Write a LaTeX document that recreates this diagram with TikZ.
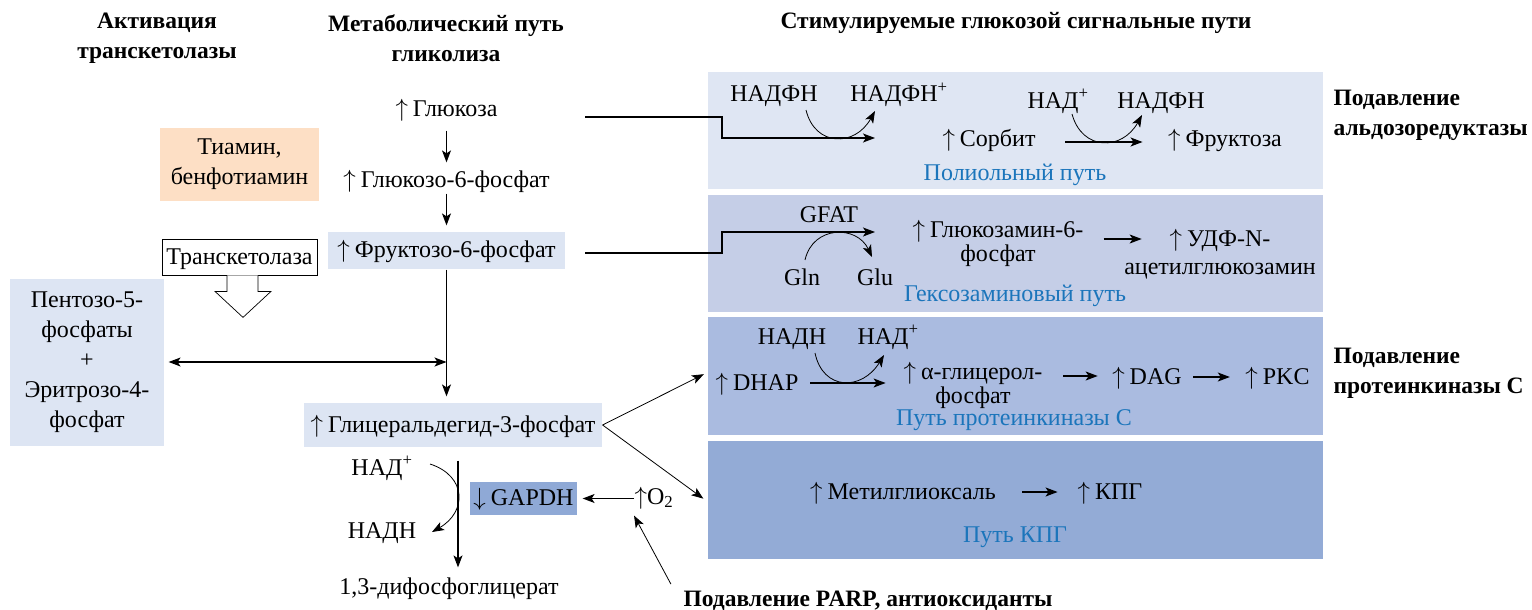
\documentclass[tikz,border=0pt]{standalone}
\usepackage{fontspec}
\setmainfont{Liberation Serif}
\usepackage{tikz}
\usetikzlibrary{positioning,arrows.meta}
\definecolor{PanelPolyol}{HTML}{DFE6F3}
\definecolor{PanelHex}{HTML}{C5CEE7}
\definecolor{PanelPkc}{HTML}{AABBE0}
\definecolor{PanelKpg}{HTML}{93ABD6}
\definecolor{LightBox}{HTML}{DDE5F3}
\definecolor{PeachBox}{HTML}{FDDFC5}
\definecolor{GapdhBox}{HTML}{8FA9D6}
\definecolor{PathBlue}{HTML}{1B75BB}
\tikzstyle{TxtBase}=[font=\fontsize{24}{28}\selectfont, inner sep=0pt]
\tikzstyle{TxtNode}=[TxtBase, text height=18.5pt, text depth=4.5pt]
\tikzstyle{MultiNode}=[TxtBase, align=center]
\tikzstyle{BoxNode}=[TxtNode, fill=LightBox]
\tikzstyle{MultiBox}=[MultiNode, fill=LightBox]
\tikzstyle{HeadNode}=[font=\fontsize{23.5}{30}\selectfont\bfseries, align=center, inner sep=0pt]
\tikzstyle{NoteNode}=[HeadNode, align=left, anchor=west]
\tikzstyle{PathName}=[TxtNode, text=PathBlue]
\tikzstyle{PanelNode}=[rectangle, minimum width=615pt, minimum height=117pt, inner sep=0pt]
\tikzstyle{CoLine}=[line width=0.8pt]
\newcommand{\UpArr}{$\uparrow$\hspace{5pt}}
\newcommand{\DownArr}{$\downarrow$\hspace{5pt}}

\begin{document}
\begin{tikzpicture}[x=1pt, y=-1pt, >={Stealth[length=12pt,width=9pt,inset=3pt]}, line width=1.2pt]

    \useasboundingbox (0,0) rectangle (1532,610);

    \node (ActHead) [HeadNode] at (157,38) {Активация\\транскетолазы};
    \node (GlyHead) [HeadNode] at (446,38) {Метаболический путь\\гликолиза};
    \node (SigHead) [HeadNode] at (1016,23) {Стимулируемые глюкозой сигнальные пути};

    \node (PolyolPanel) [PanelNode, fill=PanelPolyol] at (1015.5,130.5) {};
    \node (HexPanel) [PanelNode, fill=PanelHex, below=5pt of PolyolPanel] {};
    \node (PkcPanel) [PanelNode, fill=PanelPkc, minimum height=118pt, below=4pt of HexPanel] {};
    \node (KpgPanel) [PanelNode, fill=PanelKpg, minimum height=118pt, below=4pt of PkcPanel] {};

    \node (Glucose) [TxtNode] at (446.5,110) {\UpArr Глюкоза};
    \node (Glc6P) [TxtNode] at (446.5,180) {\UpArr Глюкозо-6-фосфат};
    \node (Fru6P) [BoxNode, minimum width=237pt, minimum height=37pt] at (446.5,250.5) {\UpArr Фруктозо-6-фосфат};
    \node (Gly3P) [BoxNode, minimum width=298pt, minimum height=44pt] at (453,425) {\UpArr Глицеральдегид-3-фосфат};
    \node (NadPlus) [TxtNode] at (382,468) {НАД\textsuperscript{+}};
    \node (NadH) [TxtNode] at (382,531) {НАДН};
    \node (Bpg) [TxtNode] at (449,587) {1,3-дифосфоглицерат};
    \node (Gapdh) [BoxNode, fill=GapdhBox, minimum width=107pt, minimum height=33pt] at (523.5,498.5) {\DownArr GAPDH};
    \node (Oxy) [TxtNode] at (654,497) {$\uparrow$O\textsubscript{2}};
    \node (Parp) [HeadNode] at (868,601) {Подавление PARP, антиоксиданты};

    \node (Tiamin) [MultiNode, fill=PeachBox, font=\fontsize{24}{30}\selectfont, minimum width=159pt, minimum height=73pt] at (239.5,164.5) {Тиамин,\\бенфотиамин};
    \node (TransKet) [TxtNode, draw, line width=0.8pt, fill=white, minimum width=155pt, minimum height=36pt] at (239.5,257) {Транскетолаза};
    \node (Pentose) [MultiBox, font=\fontsize{24}{30}\selectfont, minimum width=154pt, minimum height=167pt] at (87,362) {Пентозо-5-\\фосфаты\\+\\Эритрозо-4-\\фосфат};

    \node (Nadph01) [TxtNode] at (774,95) {НАДФН};
    \node (Nadphp01) [TxtNode] at (899,95) {НАДФН\textsuperscript{+}};
    \node (Sorbitol) [TxtNode] at (989,139) {\UpArr Сорбит};
    \node (Nad01) [TxtNode] at (1058,101) {НАД\textsuperscript{+}};
    \node (Nadph02) [TxtNode] at (1161,101) {НАДФН};
    \node (Fructose) [TxtNode] at (1225,139) {\UpArr Фруктоза};
    \node (PolyolName) [PathName] at (1015,173) {Полиольный путь};
    \node (AldoNote) [NoteNode] at (1333,115) {Подавление\\альдозоредуктазы};

    \node (Gfat) [TxtNode] at (829,215) {GFAT};
    \node (Gln) [TxtNode] at (802,278) {Gln};
    \node (Glu) [TxtNode] at (875,278) {Glu};
    \node (GlcN6P) [MultiNode, font=\fontsize{24}{24}\selectfont] at (998,243) {\UpArr Глюкозамин-6-\\фосфат};
    \node (UdpGlcNAc) [MultiNode] at (1220,254) {\UpArr УДФ-N-\\ацетилглюкозамин};
    \node (HexName) [PathName] at (1015,294) {Гексозаминовый путь};

    \node (Nadh03) [TxtNode] at (792,337) {НАДН};
    \node (Nadp03) [TxtNode] at (888,337) {НАД\textsuperscript{+}};
    \node (Dhap) [TxtNode] at (757,383) {\UpArr DHAP};
    \node (GroP) [MultiNode, font=\fontsize{24}{24}\selectfont] at (973,385) {\UpArr α-глицерол-\\фосфат};
    \node (Dag) [TxtNode] at (1147,377) {\UpArr DAG};
    \node (Pkc) [TxtNode] at (1277.5,377) {\UpArr PKC};
    \node (PkcName) [PathName] at (1014,418) {Путь протеинкиназы С};
    \node (PkcNote) [NoteNode] at (1333,373) {Подавление\\протеинкиназы С};

    \node (Mgo) [TxtNode] at (903,492) {\UpArr Метилглиоксаль};
    \node (Kpg) [TxtNode] at (1110,492) {\UpArr КПГ};
    \node (KpgName) [PathName] at (1015,535) {Путь КПГ};

    \coordinate (GlcOut) at (585,117);
    \coordinate (PolyolIn) at (722,138);
    \coordinate (PolyolEnd) at (875,138);
    \coordinate (FruOut) at (585,253);
    \coordinate (HexIn) at (722,232);
    \coordinate (HexEnd) at (875,232);

    \draw [->, shorten <=8.5pt, shorten >=5.5pt] (Glucose) -- (Glc6P);
    \draw [->, shorten <=1.5pt, shorten >=6pt] (Glc6P) -- (Fru6P);
    \draw [->, shorten >=6pt] (Fru6P.south) -- (Fru6P.south |- Gly3P.north);
    \draw [<->, shorten <=4pt] (Pentose.east) -- (Pentose.east -| Fru6P.south);
    \draw [->, shorten <=13pt, shorten >=7.5pt] ([xshift=5pt]Gly3P.south) -- ([xshift=5pt]Gly3P.south |- Bpg.north);
    \draw [->, CoLine] ([xshift=48pt,yshift=4pt]NadPlus.center) .. controls +(37,12) and +(35,-20) .. ([xshift=50pt,yshift=-1pt]NadH.center);
    \draw [->, shorten >=5pt] (Oxy.west |- Gapdh.east) -- (Gapdh.east);
    \draw [->, CoLine] ([xshift=-12pt,yshift=6.5pt]Parp.north west) -- ([yshift=-6.5pt]Oxy.south west);
    \draw [->, CoLine, shorten >=4pt] (Gly3P.east) -- ([yshift=4pt]PkcPanel.west);
    \draw [->, CoLine, shorten >=5pt] (Gly3P.east) -- ([yshift=-2pt]KpgPanel.west);
    \draw [line width=0.7pt, fill=white] ([xshift=-12.5pt]TransKet.south) -- ++(0,16) -- ++(-12,0) -- ++(28,26) -- ++(28,-26) -- ++(-13,0) -- ++(0,-16);

    \draw [->] (GlcOut) -| (PolyolIn) -- (PolyolEnd);
    \draw [->, CoLine] ([xshift=32pt,yshift=-15pt]Nadph01.center) .. controls +(9,37) and +(-20,36) .. ([xshift=-24pt,yshift=-16pt]Nadphp01.center);
    \draw [->, shorten <=29pt, shorten >=25pt] ([yshift=-3pt]Sorbitol.east) -- ([yshift=-3pt]Fructose.west);
    \draw [->, CoLine] ([xshift=14pt,yshift=-13pt]Nad01.center) .. controls +(10,37) and +(-20,36) .. ([xshift=-19pt,yshift=-14pt]Nadph02.center);

    \draw [->] (FruOut) -| (HexIn) -- (HexEnd);
    \draw [->, CoLine] ([xshift=3pt,yshift=18pt]Gln.center) .. controls +(8,-35) and +(-15,-32) .. ([xshift=-3pt,yshift=21pt]Glu.center);
    \draw [->] ([xshift=19.5pt,yshift=4pt]GlcN6P.east) -- ([xshift=18pt,yshift=15pt]UdpGlcNAc.west);

    \draw [->, shorten <=11pt, shorten >=17.5pt] (Dhap.east) -- (Dhap.east -| GroP.west);
    \draw [->, CoLine] ([xshift=23pt,yshift=-16pt]Nadh03.center) .. controls +(8,38) and +(-22,36) .. ([xshift=-4pt,yshift=-18pt]Nadp03.center);
    \draw [->] ([xshift=20.5pt,yshift=9pt]GroP.east) -- ([xshift=-14pt,yshift=1pt]Dag.west);
    \draw [->, shorten <=11pt, shorten >=15pt] (Dag) -- (Pkc);

    \draw [->, shorten <=26pt, shorten >=19.5pt] (Mgo) -- (Kpg);

\end{tikzpicture}
\end{document}
